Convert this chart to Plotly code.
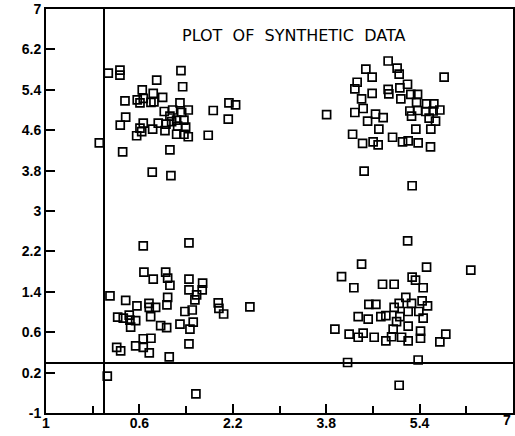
import plotly.graph_objects as go

# ---- data ----
tl_x = [0.067, 0.267, 0.267, 1.312, 0.896, 1.341, 0.649, 0.837, 0.998, 0.353,
        0.563, 0.610, 0.666, 0.798, 0.849, 1.295, 2.134, 2.248, 1.026, 1.170,
        1.324, 1.437, 1.865, 2.122, 0.365, 0.272, 0.666, 0.610, 0.639, 0.553,
        0.827, 0.923, 1.055, 1.038, 1.238, 1.255, 1.238, 1.363, 1.392, 1.363,
        1.437, 1.123, 1.152, 1.779, -0.087, 0.313, 1.123, 0.820, 1.140]
tl_y = [5.73, 5.79, 5.69, 5.78, 5.59, 5.46, 5.40, 5.33, 5.25, 5.18,
        5.20, 5.14, 5.23, 5.15, 5.16, 5.14, 5.14, 5.10, 4.97, 5.00,
        4.95, 5.00, 4.99, 4.82, 4.86, 4.70, 4.74, 4.64, 4.57, 4.49,
        4.62, 4.74, 4.72, 4.59, 4.80, 4.68, 4.52, 4.80, 4.66, 4.52,
        4.47, 4.88, 4.77, 4.50, 4.35, 4.17, 4.21, 3.77, 3.70]

tr_x = [4.861, 4.479, 5.015, 5.050, 4.587, 5.820, 4.330, 4.291, 5.193, 5.062,
        4.861, 4.873, 4.587, 5.250, 5.365, 4.406, 5.079, 5.348, 5.519, 5.644,
        4.433, 3.807, 4.291, 4.645, 4.776, 4.509, 5.233, 5.262, 5.365, 5.507,
        5.632, 5.747, 5.563, 5.673, 4.702, 5.336, 5.592, 4.252, 4.423, 4.604,
        4.690, 4.937, 5.108, 5.204, 5.375, 5.587, 4.450, 5.272, 5.195]
tr_y = [5.97, 5.81, 5.83, 5.71, 5.65, 5.65, 5.55, 5.42, 5.51, 5.44,
        5.41, 5.32, 5.33, 5.31, 5.31, 5.22, 5.22, 5.15, 5.12, 5.12,
        5.03, 4.91, 4.95, 4.92, 4.85, 4.78, 4.98, 4.88, 4.99, 4.97,
        4.98, 5.00, 4.84, 4.78, 4.62, 4.62, 4.62, 4.52, 4.34, 4.37,
        4.31, 4.46, 4.37, 4.39, 4.35, 4.27, 3.79, 3.50, 2.41]

bl_x = [0.666, 1.449, 0.678, 0.837, 1.050, 1.084, 1.123, 1.449, 1.683, 1.676,
        1.449, 1.580, 1.551, 0.096, 0.365, 0.558, 0.764, 0.769, 0.878, 1.084,
        1.072, 1.950, 1.962, 2.043, 2.493, 1.380, 1.505, 0.793, 0.228, 0.324,
        0.426, 0.438, 0.450, 0.536, 1.522, 1.295, 1.466, 0.964, 1.067, 0.666,
        0.798, 0.536, 0.666, 0.769, 0.211, 0.279, 1.449, 1.111, 0.050, 1.568]
bl_y = [2.31, 2.37, 1.79, 1.65, 1.79, 1.67, 1.53, 1.65, 1.57, 1.44,
        1.44, 1.34, 1.24, 1.32, 1.23, 1.12, 1.17, 1.09, 1.09, 1.29,
        1.14, 1.18, 1.07, 0.96, 1.10, 1.01, 1.04, 0.91, 0.90, 0.88,
        0.94, 0.84, 0.70, 0.83, 0.80, 0.76, 0.66, 0.73, 0.69, 0.47,
        0.48, 0.33, 0.30, 0.19, 0.30, 0.23, 0.37, 0.11, -0.27, -0.62]

br_x = [4.406, 4.063, 5.519, 6.277, 4.274, 4.765, 4.964, 5.272, 5.330, 5.461,
        5.164, 5.050, 4.964, 5.262, 5.443, 5.536, 5.387, 5.461, 4.531, 4.651,
        5.204, 5.062, 4.348, 4.519, 4.736, 4.822, 5.005, 5.204, 3.949, 4.193,
        4.348, 4.433, 4.622, 4.947, 4.920, 4.822, 5.091, 5.204, 5.416, 5.416,
        5.849, 5.747, 4.166, 5.375, 5.050]
br_y = [1.95, 1.70, 1.89, 1.83, 1.48, 1.55, 1.55, 1.69, 1.63, 1.48,
        1.29, 1.17, 1.09, 1.17, 1.22, 1.12, 1.01, 0.88, 1.15, 1.15,
        1.01, 0.91, 0.91, 0.86, 0.91, 0.93, 0.81, 0.72, 0.66, 0.56,
        0.50, 0.58, 0.50, 0.66, 0.51, 0.43, 0.50, 0.43, 0.62, 0.48,
        0.56, 0.41, 0.00, 0.05, -0.45]

x_major = [-1, 0.6, 2.2, 3.8, 5.4, 7]
x_major_text = ["1", "0.6", "2.2", "3.8", "5.4", "7"]
x_minor = [-0.2, 1.4, 3.0, 4.6, 6.2]
y_ticks = [-1, -0.2, 0.6, 1.4, 2.2, 3.0, 3.8, 4.6, 5.4, 6.2, 7]
y_tick_text = ["-1", "0.2", "0.6", "1.4", "2.2", "3", "3.8", "4.6", "5.4", "6.2", "7"]
title_text = "PLOT\u00a0\u00a0OF\u00a0\u00a0SYNTHETIC\u00a0\u00a0DATA"

fig = go.Figure()
marker = dict(symbol="square-open", size=8, color="black", line=dict(width=1.7, color="black"))
for xs, ys in [(tl_x, tl_y), (tr_x, tr_y), (bl_x, bl_y), (br_x, br_y)]:
    fig.add_trace(go.Scatter(x=xs, y=ys, mode="markers", marker=marker,
                             showlegend=False, hoverinfo="skip"))

tickfont = dict(family="Liberation Sans", size=14, color="black", weight="bold")

# the last x label sits at the right edge of the page, so it is drawn right-aligned
x_text_axis = x_major_text[:-1] + [""]
fig.update_xaxes(range=[-1, 7], tickmode="array", tickvals=x_major, ticktext=x_text_axis,
                 ticks="inside", ticklen=9, tickwidth=1.5, tickcolor="black",
                 minor=dict(tickmode="array", tickvals=x_minor, ticks="inside", ticklen=7,
                            tickwidth=1.5, tickcolor="black", showgrid=False),
                 showgrid=False, showline=True, linecolor="black", linewidth=2, mirror=True,
                 zeroline=True, zerolinecolor="black", zerolinewidth=1.5,
                 tickfont=tickfont, automargin=False, ticklabelstandoff=-4)
fig.update_yaxes(range=[-1, 7], tickmode="array", tickvals=y_ticks, ticktext=y_tick_text,
                 ticks="inside", ticklen=9, tickwidth=1.5, tickcolor="black",
                 showgrid=False, showline=True, linecolor="black", linewidth=2, mirror=True,
                 zeroline=True, zerolinecolor="black", zerolinewidth=1.5,
                 tickfont=tickfont, automargin=False)

fig.add_annotation(text=x_major_text[-1], xref="x", yref="paper", x=x_major[-1], y=0,
                   xanchor="right", yanchor="top", yshift=3, showarrow=False,
                   font=tickfont)

fig.add_annotation(text=title_text, xref="paper", yref="paper", x=0.529, y=0.935,
                   xanchor="center", yanchor="middle", showarrow=False,
                   font=dict(family="DejaVu Sans", size=16, color="black"))

fig.update_layout(width=515, height=436, margin=dict(l=46, r=2, t=9, b=23),
                  paper_bgcolor="white", plot_bgcolor="white")

fig.write_html("out.html")
